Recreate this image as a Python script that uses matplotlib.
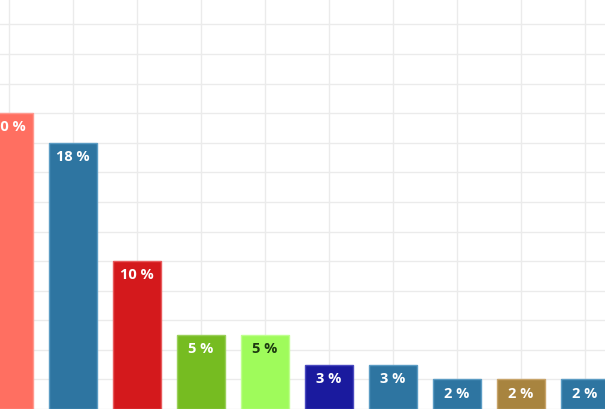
import numpy as np
from matplotlib import pyplot as plt

# values (first bar is cut at the left edge)
values = [20, 18, 10, 5, 5, 3, 3, 2, 2, 2]
labels = ["20 %", "18 %", "10 %", "5 %", "5 %", "3 %", "3 %", "2 %", "2 %", "2 %"]
colors = ["#ff6f61", "#2e75a1", "#d4191c", "#76bc21", "#9ffb5b",
          "#1a1a9e", "#2e75a1", "#2e75a1", "#a8843f", "#2e75a1"]
edges = ["#ff9a90", "#5b9cc4", "#e85a5c", "#9ad05a", "#bfff8f",
         "#4a4ac0", "#5b9cc4", "#5b9cc4", "#c8a46a", "#5b9cc4"]
text_colors = ["white"] * 10
text_colors[4] = "#1d3a10"


def main():
    fig = plt.figure(figsize=(6.05, 4.10), dpi=100)
    ax = fig.add_axes([0, 0, 1, 1])
    x = np.arange(len(values))
    ax.bar(x, values, width=0.75, color=colors, edgecolor=edges, linewidth=1, zorder=2)

    for i, v in enumerate(values):
        ax.annotate(labels[i], (x[i], v), xytext=(0, -9.5), textcoords="offset points",
                    ha="center", va="center", color=text_colors[i],
                    fontsize=10.5, fontweight="bold", family="Open Sans", zorder=3)

    ax.set_xlim(-0.1406, 9.3125)
    ax.set_ylim(0.2, 27.72)
    ax.set_xticks(x)
    ax.set_yticks(np.arange(0, 28, 2))
    ax.grid(True, color="#ebebeb", linewidth=1, zorder=0)
    ax.tick_params(length=0, labelbottom=False, labelleft=False)
    for s in ax.spines.values():
        s.set_visible(False)
    fig.savefig("out.png", dpi=100)


if __name__ == "__main__":
    main()
